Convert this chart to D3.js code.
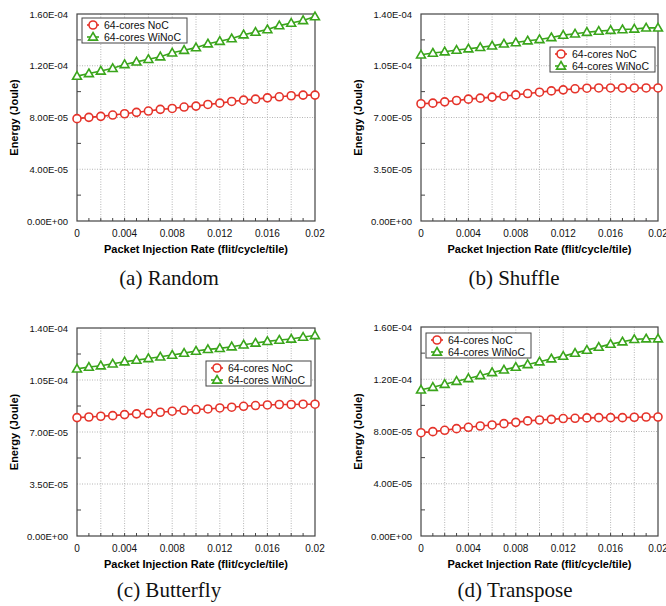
<!DOCTYPE html>
<html>
<head>
<meta charset="utf-8">
<script src="https://cdn.jsdelivr.net/npm/d3@7"></script>
<style>
  body { margin: 0; background: #fff; }
  svg { display: block; font-family: "Liberation Sans", Arial, sans-serif; }
</style>
</head>
<body>
<svg id="chart" width="666" height="606"></svg>
<script>
"use strict"

// injection rates (flit/cycle/tile)
var rates = [0, 0.001, 0.002, 0.003, 0.004, 0.005, 0.006, 0.007, 0.008, 0.009, 0.010,
             0.011, 0.012, 0.013, 0.014, 0.015, 0.016, 0.017, 0.018, 0.019, 0.020];

// Random
var randomNoc = [7.91e-5, 8.01e-5, 8.09e-5, 8.19e-5, 8.29e-5, 8.40e-5, 8.50e-5, 8.63e-5, 8.70e-5, 8.81e-5, 8.88e-5,
                 9.01e-5, 9.11e-5, 9.24e-5, 9.34e-5, 9.42e-5, 9.52e-5, 9.60e-5, 9.68e-5, 9.73e-5, 9.73e-5];
var randomWinoc = [1.12e-4, 1.14e-4, 1.16e-4, 1.18e-4, 1.21e-4, 1.23e-4, 1.25e-4, 1.27e-4, 1.30e-4, 1.32e-4, 1.34e-4,
                   1.37e-4, 1.39e-4, 1.41e-4, 1.44e-4, 1.46e-4, 1.48e-4, 1.51e-4, 1.53e-4, 1.55e-4, 1.58e-4];

// Shuffle
var shuffleNoc = [7.93e-5, 7.97e-5, 8.06e-5, 8.15e-5, 8.24e-5, 8.31e-5, 8.38e-5, 8.44e-5, 8.53e-5, 8.62e-5, 8.71e-5,
                  8.80e-5, 8.87e-5, 8.94e-5, 8.98e-5, 9.00e-5, 9.00e-5, 9.00e-5, 9.00e-5, 9.00e-5, 9.00e-5];
var shuffleWinoc = [1.124e-4, 1.136e-4, 1.145e-4, 1.156e-4, 1.165e-4, 1.174e-4, 1.185e-4, 1.198e-4, 1.207e-4, 1.219e-4, 1.228e-4,
                    1.241e-4, 1.257e-4, 1.266e-4, 1.277e-4, 1.284e-4, 1.290e-4, 1.295e-4, 1.299e-4, 1.306e-4, 1.306e-4];

// Butterfly
var butterflyNoc = [7.97e-5, 8.01e-5, 8.06e-5, 8.10e-5, 8.17e-5, 8.22e-5, 8.26e-5, 8.33e-5, 8.40e-5, 8.46e-5, 8.51e-5,
                    8.55e-5, 8.62e-5, 8.67e-5, 8.73e-5, 8.78e-5, 8.82e-5, 8.85e-5, 8.85e-5, 8.87e-5, 8.87e-5];
var butterflyWinoc = [1.125e-4, 1.137e-4, 1.146e-4, 1.159e-4, 1.173e-4, 1.184e-4, 1.195e-4, 1.206e-4, 1.218e-4, 1.231e-4, 1.245e-4,
                      1.256e-4, 1.263e-4, 1.274e-4, 1.287e-4, 1.299e-4, 1.310e-4, 1.319e-4, 1.326e-4, 1.339e-4, 1.350e-4];

// Transpose
var transposeNoc = [7.91e-5, 7.99e-5, 8.09e-5, 8.22e-5, 8.32e-5, 8.42e-5, 8.50e-5, 8.60e-5, 8.70e-5, 8.81e-5, 8.88e-5,
                    8.93e-5, 8.99e-5, 9.01e-5, 9.04e-5, 9.06e-5, 9.06e-5, 9.06e-5, 9.09e-5, 9.11e-5, 9.11e-5];
var transposeWinoc = [1.119e-4, 1.139e-4, 1.162e-4, 1.185e-4, 1.206e-4, 1.229e-4, 1.252e-4, 1.272e-4, 1.293e-4, 1.313e-4, 1.334e-4,
                      1.357e-4, 1.377e-4, 1.400e-4, 1.423e-4, 1.446e-4, 1.469e-4, 1.487e-4, 1.505e-4, 1.510e-4, 1.510e-4];

var seriesNames = ["64-cores NoC", "64-cores WiNoC"];
var captions = ["(a) Random", "(b) Shuffle", "(c) Butterfly", "(d) Transpose"];
var yTicksLarge = [0, 4e-5, 8e-5, 1.2e-4, 1.6e-4];
var yTicksSmall = [0, 3.5e-5, 7e-5, 1.05e-4, 1.4e-4];
var xTickLabels = [0, 0.004, 0.008, 0.012, 0.016, 0.02];

var red = "#e5332a";
var green = "#3aa51b";

var panels = [
    {noc: randomNoc, winoc: randomWinoc, yMax: 1.6e-4, yTicks: yTicksLarge,
     left: 77, top: 14, right: 315, bottom: 221, legend: [82, 18], caption: captions[0], capX: 169, capY: 285},
    {noc: shuffleNoc, winoc: shuffleWinoc, yMax: 1.4e-4, yTicks: yTicksSmall,
     left: 421, top: 14, right: 658, bottom: 221, legend: [550, 47], caption: captions[1], capX: 514, capY: 285},
    {noc: butterflyNoc, winoc: butterflyWinoc, yMax: 1.4e-4, yTicks: yTicksSmall,
     left: 77, top: 328, right: 315, bottom: 536, legend: [206, 361], caption: captions[2], capX: 169, capY: 597},
    {noc: transposeNoc, winoc: transposeWinoc, yMax: 1.6e-4, yTicks: yTicksLarge,
     left: 421, top: 327, right: 658, bottom: 536, legend: [426, 333], caption: captions[3], capX: 515, capY: 597}
];

var svg = d3.select("#chart");
var fmtY = function(v){
    if (v === 0) return "0.00E+00";
    var s = v.toExponential(2).toUpperCase();   // 1.60E-4
    return s.replace(/E([+-])(\d)$/, "E$10$2");
};
var fmtX = function(v){ return v === 0 ? "0" : String(+v.toFixed(3)); };

var triangle = d3.symbol().type(d3.symbolTriangle).size(34);

function marker(g, type, color, x, y) {
    if (type === "circle") {
        g.append("circle")
            .attr("cx", x).attr("cy", y).attr("r", 4)
            .attr("fill", "white").attr("stroke", color).attr("stroke-width", 1.6);
    } else {
        g.append("path")
            .attr("d", triangle)
            .attr("transform", "translate(" + x + "," + (y + 0.6) + ")")
            .attr("fill", "white").attr("stroke", color).attr("stroke-width", 1.6);
    }
}

panels.forEach(function(p){

    var x = d3.scaleLinear().domain([0, 0.02]).range([p.left, p.right]);
    var y = d3.scaleLinear().domain([0, p.yMax]).range([p.bottom, p.top]);
    var g = svg.append("g");

    // dotted grid
    g.selectAll("line.vgrid")
        .data(d3.range(1, 10).map(function(i){ return i * 0.002; }))
        .enter().append("line")
        .attr("x1", function(d){ return x(d); }).attr("x2", function(d){ return x(d); })
        .attr("y1", p.top).attr("y2", p.bottom)
        .attr("stroke", "#b5b5b5").attr("stroke-width", 1).attr("stroke-dasharray", "1,1.5");
    g.selectAll("line.hgrid")
        .data(p.yTicks.slice(1, -1))
        .enter().append("line")
        .attr("x1", p.left).attr("x2", p.right)
        .attr("y1", function(d){ return y(d); }).attr("y2", function(d){ return y(d); })
        .attr("stroke", "#b5b5b5").attr("stroke-width", 1).attr("stroke-dasharray", "1,1.5");

    // minor ticks, inward
    var step = p.yTicks[1];
    g.selectAll("line.ymin")
        .data(p.yTicks.slice(0, -1).map(function(d){ return d + step / 2; }))
        .enter().append("line")
        .attr("x1", p.left).attr("x2", p.left + 4)
        .attr("y1", function(d){ return y(d); }).attr("y2", function(d){ return y(d); })
        .attr("stroke", "#444");
    g.selectAll("line.xmin")
        .data(d3.range(1, 20).map(function(i){ return i * 0.001; }))
        .enter().append("line")
        .attr("x1", function(d){ return x(d); }).attr("x2", function(d){ return x(d); })
        .attr("y1", p.bottom).attr("y2", p.bottom - 3)
        .attr("stroke", "#444");

    // frame
    g.append("rect")
        .attr("x", p.left).attr("y", p.top)
        .attr("width", p.right - p.left).attr("height", p.bottom - p.top)
        .attr("fill", "none").attr("stroke", "#444").attr("stroke-width", 1.2);

    // tick labels
    g.selectAll("text.ylab")
        .data(p.yTicks).enter().append("text")
        .attr("x", p.left - 9).attr("y", function(d){ return y(d) + 3.5; })
        .attr("text-anchor", "end").attr("font-size", "9.5px").attr("fill", "#111")
        .text(fmtY);
    g.selectAll("text.xlab")
        .data(xTickLabels).enter().append("text")
        .attr("x", function(d){ return x(d); }).attr("y", p.bottom + 16)
        .attr("text-anchor", "middle").attr("font-size", "10px").attr("fill", "#111")
        .text(fmtX);

    // axis titles
    g.append("text")
        .attr("transform", "translate(" + (p.left - 59) + "," + ((p.top + p.bottom) / 2) + ") rotate(-90)")
        .attr("text-anchor", "middle").attr("font-size", "11px").attr("font-weight", "bold")
        .text("Energy (Joule)");
    g.append("text")
        .attr("x", (p.left + p.right) / 2).attr("y", p.bottom + 32)
        .attr("text-anchor", "middle").attr("font-size", "11px").attr("font-weight", "bold")
        .text("Packet Injection Rate (flit/cycle/tile)");

    // series
    var line = d3.line()
        .x(function(d, i){ return x(rates[i]); })
        .y(function(d){ return y(d); });
    [[p.noc, red, "circle"], [p.winoc, green, "triangle"]].forEach(function(s){
        g.append("path")
            .attr("d", line(s[0]))
            .attr("fill", "none").attr("stroke", s[1]).attr("stroke-width", 1.6);
        s[0].forEach(function(v, i){
            marker(g, s[2], s[1], x(rates[i]), y(v));
        });
    });

    // legend
    var lg = g.append("g").attr("transform", "translate(" + p.legend[0] + "," + p.legend[1] + ")");
    lg.append("rect")
        .attr("width", 105).attr("height", 25)
        .attr("fill", "white").attr("stroke", "#444").attr("stroke-width", 1);
    [[red, "circle"], [green, "triangle"]].forEach(function(s, i){
        var yy = 7 + i * 12;
        lg.append("line")
            .attr("x1", 5).attr("x2", 17).attr("y1", yy).attr("y2", yy)
            .attr("stroke", s[0]).attr("stroke-width", 1.6);
        marker(lg, s[1], s[0], 11, yy);
        lg.append("text")
            .attr("x", 22).attr("y", yy + 4)
            .attr("font-size", "10.5px").attr("fill", "#111")
            .text(seriesNames[i]);
    });

    // caption
    svg.append("text")
        .attr("x", p.capX).attr("y", p.capY)
        .attr("text-anchor", "middle")
        .attr("font-family", "'Liberation Serif', 'Times New Roman', serif")
        .attr("font-size", "21px").attr("fill", "#111")
        .text(p.caption);
});
</script>
</body>
</html>
